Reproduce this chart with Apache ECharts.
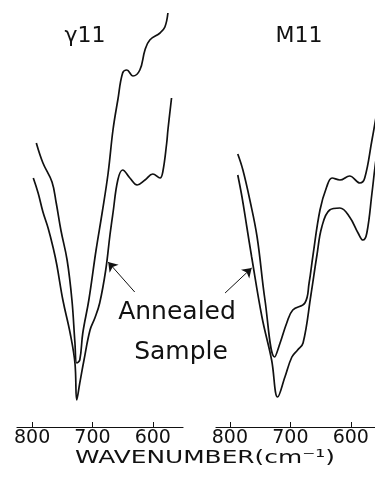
<!DOCTYPE html>
<html>
<head>
<meta charset="utf-8">
<script src="https://cdn.jsdelivr.net/npm/echarts@6/dist/echarts.min.js"></script>
<style>
html, body { margin: 0; padding: 0; background: #fff; }
#chart { width: 375px; height: 488px; }
</style>
</head>
<body>
<div id="chart"></div>
<script>
// wavenumber (cm-1), transmittance (arbitrary units)
const gamma11Original = [[793,71],[782,66],[767,61.25],[760,56],[752,49],[742,41.75],[734,31.75],[729,21],[726,16],[721,16.75],[716,23.5],[706,31.75],[694,44.25],[684,53.5],[674,63.5],[666,74.25],[658,81.75],[650,88.5],[643,89.25],[633,87.75],[621.5,89.25],[613,94.25],[605,96.75],[588,98.5],[580,100],[575,103.5]];
const gamma11Annealed = [[798,62.25],[790,58.5],[782,53.75],[773.5,49.75],[765,44.75],[759,40.5],[749,31.75],[737,23.5],[729,16],[726,6.75],[721,11],[714,16.75],[704,24.25],[696,27.25],[688,31],[678,39.25],[671,48],[666,53.5],[658,61.75],[650,64.25],[638,62.25],[626,60.5],[613,61.75],[600,63.25],[588,62.25],[583.5,63.75],[577,71],[575,74.25],[569,82.25]];
const m11Original = [[787,68.25],[778.5,64.25],[767,56.75],[755,47.5],[742,31.75],[726,17.5],[717,21],[706,26],[696,29.25],[676,31],[669,36],[662.5,43],[651,54.25],[640,60],[631,62.25],[618,61.75],[602,62.75],[585,61],[577,62.25],[565,71.75],[560,76],[555,80.5]];
const m11Annealed = [[787,63],[780,57.5],[772,50],[764,42.5],[747,27.5],[731,16.75],[721,7.5],[709,12.5],[697.5,17.5],[688,19.25],[679,21],[666,33],[656,43],[648,50],[635,54.25],[618,54.75],[602,52.5],[588,48.5],[580,46.75],[573.5,48.5],[565,58.5],[560,65],[555,70.5]];

const panelTitles = ['γ11', 'M11'];
const tickValues = [800, 700, 600];
const xRanges = [[550, 825], [560, 823]];
const arrowGamma = [[630, 33.75], [674, 41.25]];
const arrowM = [[808, 33.5], [764, 39.75]];
const axisTitle = 'WAVENUMBER(cm⁻¹)';
const noteLines = ['Annealed', 'Sample'];

const ink = '#111';
const font = 'DejaVu Sans';

const chart = echarts.init(document.getElementById('chart'));

const makeX = (idx)=>({
    type: 'value',
    gridIndex: idx,
    inverse: true,
    min: xRanges[idx][0],
    max: xRanges[idx][1],
    axisLine: { lineStyle: { color: ink, width: 1.2 } },
    axisTick: { inside: true, length: 5, lineStyle: { color: ink }, customValues: tickValues },
    axisLabel: { customValues: tickValues, color: ink, fontSize: 19, fontFamily: font, margin: 2 },
    splitLine: { show: false }
});

const makeY = (idx)=>({
    type: 'value',
    gridIndex: idx,
    min: 0,
    max: 105,
    show: false
});

const makeLine = (data, idx, arrow)=>({
    type: 'line',
    xAxisIndex: idx,
    yAxisIndex: idx,
    data,
    smooth: 0.4,
    showSymbol: false,
    lineStyle: { color: ink, width: 1.7 },
    markLine: arrow ? {
        silent: true,
        symbol: ['none', 'arrow'],
        symbolSize: 9,
        label: { show: false },
        lineStyle: { color: ink, width: 1, type: 'solid' },
        data: [[{ coord: arrow[0] }, { coord: arrow[1] }]]
    } : undefined
});

const textEl = (text, x, y, size, sx)=>({
    type: 'text',
    x, y,
    scaleX: sx || 1,
    style: { text, fill: ink, font: size + 'px "' + font + '"', align: 'center', verticalAlign: 'middle' }
});

chart.setOption({
    animation: false,
    grid: [
        { left: 17, width: 166, top: 7, bottom: 61 },
        { left: 216, width: 159, top: 7, bottom: 61 }
    ],
    xAxis: [makeX(0), makeX(1)],
    yAxis: [makeY(0), makeY(1)],
    series: [
        makeLine(gamma11Original, 0),
        makeLine(gamma11Annealed, 0, arrowGamma),
        makeLine(m11Original, 1),
        makeLine(m11Annealed, 1, arrowM)
    ],
    graphic: [
        textEl(panelTitles[0], 85, 36, 22),
        textEl(panelTitles[1], 299, 36, 22),
        textEl(noteLines[0], 177, 312, 25),
        textEl(noteLines[1], 181, 352, 25),
        textEl(axisTitle, 205, 458, 18, 1.38)
    ]
});
</script>
</body>
</html>
